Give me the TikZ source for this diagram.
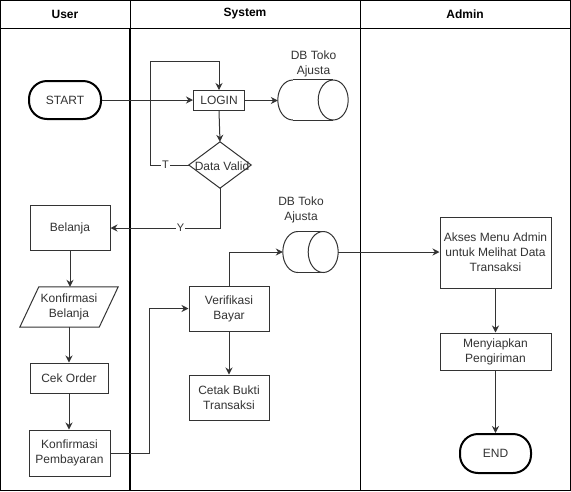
\documentclass[tikz,border=0pt]{standalone}
\usepackage{fontspec}
\setmainfont{Liberation Sans}
\usetikzlibrary{arrows.meta,calc}
\definecolor{ink}{HTML}{333333}
% horizontal database cylinder drawn over a named (invisible) rectangle node
% #1 node name, #2 end-cap x radius, #3 half height
\newcommand\drawdbcyl[3]{%
  \path[fill=white,draw=ink,line width=1pt] ($(#1.west)+(#2,0)$) ellipse [x radius=#2, y radius=#3];
  \fill[white] ($(#1.north west)+(#2,0)$) rectangle ($(#1.south east)+(-#2,0)$);
  \draw[ink,line width=1pt] ($(#1.north west)+(#2,0)$) -- ($(#1.north east)+(-#2,0)$)
                            ($(#1.south west)+(#2,0)$) -- ($(#1.south east)+(-#2,0)$);
  \path[fill=white,draw=ink,line width=1pt] ($(#1.east)+(-#2,0)$) ellipse [x radius=#2, y radius=#3];
}
\begin{document}
\begin{tikzpicture}[x=1pt,y=-1pt,
  every node/.style={font=\fontsize{12}{15}\selectfont, text=ink, align=center, inner sep=0pt},
  box/.style={draw=ink, line width=1pt, fill=white},
  term/.style={draw=black, line width=2pt, fill=white, rounded corners=18pt},
  ghost/.style={draw=none},
  arr/.style={draw=ink, line width=1pt, -{Stealth[length=7pt,width=7pt]}},
  lbl/.style={fill=white, inner sep=1pt, font=\fontsize{11}{13}\selectfont},
  head/.style={font=\bfseries\fontsize{12}{15}\selectfont, text=black},
  lane/.style={draw=black, line width=1pt}]
\useasboundingbox (0,0) rectangle (571,491);

% swimlanes
\draw[lane] (0.5,0.5) rectangle (570.5,490.5);
\draw[lane] (0,28) -- (571,28);
\draw[lane] (130,0) -- (130,28);
\draw[black, line width=2pt] (130,28) -- (130,491);
\draw[lane] (360,0) -- (360,491);
\node[head] (hUser) at (65,14) {User};
\node[head] (hSys) at (245,14) {System};
\node[head] (hAdm) at (465,14) {Admin};

% user lane
\node[term, minimum width=72, minimum height=38] (start) at (65,100) {START};
\node[box, minimum width=80, minimum height=45] (belanja) at (70,228) {Belanja};
\node[ghost, minimum width=79, minimum height=40] (kb) at (69,307) {Konfirmasi\\Belanja};
\draw[ink, line width=1pt, fill=white]
  ($(kb.north west)+(9.5,0)$) -- ($(kb.north east)+(9.5,0)$) --
  ($(kb.south east)+(-9.5,0)$) -- ($(kb.south west)+(-9.5,0)$) -- cycle;
\node[ghost, minimum width=79, minimum height=40] at (kb) {Konfirmasi\\Belanja};
\node[box, minimum width=78, minimum height=30] (cek) at (69,378) {Cek Order};
\node[box, minimum width=81, minimum height=46] (kp) at (69.5,453) {Konfirmasi\\Pembayaran};

% system lane
\node[box, minimum width=51, minimum height=20] (login) at (219,100.5) {LOGIN};
\node[ghost, minimum width=70, minimum height=40] (db1) at (313,100) {};
\drawdbcyl{db1}{15}{20}
\node (db1lbl) at (313.5,64) {DB Toko\\Ajusta};
\node[ghost, minimum width=62, minimum height=46] (valid) at (220,165) {};
\draw[ink, line width=1pt, fill=white] (valid.north) -- (valid.east) -- (valid.south) -- (valid.west) -- cycle;
\node at (222,166) {Data Valid};
\node[box, minimum width=80, minimum height=45] (verif) at (229,308.5) {Verifikasi\\Bayar};
\node[box, minimum width=80, minimum height=45] (cetak) at (229,397.5) {Cetak Bukti\\Transaksi};
\node[ghost, minimum width=55, minimum height=41] (db2) at (310.5,252) {};
\drawdbcyl{db2}{15}{20.5}
\node (db2lbl) at (301,210) {DB Toko\\Ajusta};

% admin lane
\node[box, minimum width=111, minimum height=71] (akses) at (495.5,252.5) {Akses Menu Admin\\untuk Melihat Data\\Transaksi};
\node[box, minimum width=111, minimum height=37] (siap) at (495.5,351.5) {Menyiapkan\\Pengiriman};
\node[term, minimum width=71, minimum height=39] (end) at (495.5,453.5) {END};

% bend points
\coordinate (tloop) at (150,61);
\coordinate (payx) at (149,0);

% connectors
\draw[arr] (start.east) -- (start.east -| login.west);
\draw[arr] (login.east) -- (login.east -| db1.west);
\draw[arr] (login.south) -- (valid.north);
\draw[arr] (valid.west) -- node[lbl, pos=0.6]{T} (valid.west -| tloop) -- (tloop) -| (login.north);
\draw[arr] (valid.south) |- node[lbl, pos=0.68]{Y} (belanja.east);
\draw[arr] (belanja.south) -- (belanja.south |- kb.north);
\draw[arr] (kb.south -| cek.north) -- (cek.north);
\draw[arr] (cek.south) -- (cek.south |- kp.north);
\draw[arr] (kp.east) -| (payx |- verif.west) -- (verif.west);
\draw[arr] (verif.south) -- (cetak.north);
\draw[arr] (verif.north) |- (db2.west);
\draw[arr] (db2.east) -- (db2.east -| akses.west);
\draw[arr] (akses.south) -- (siap.north);
\draw[arr] (siap.south) -- (end.north);
\end{tikzpicture}
\end{document}
